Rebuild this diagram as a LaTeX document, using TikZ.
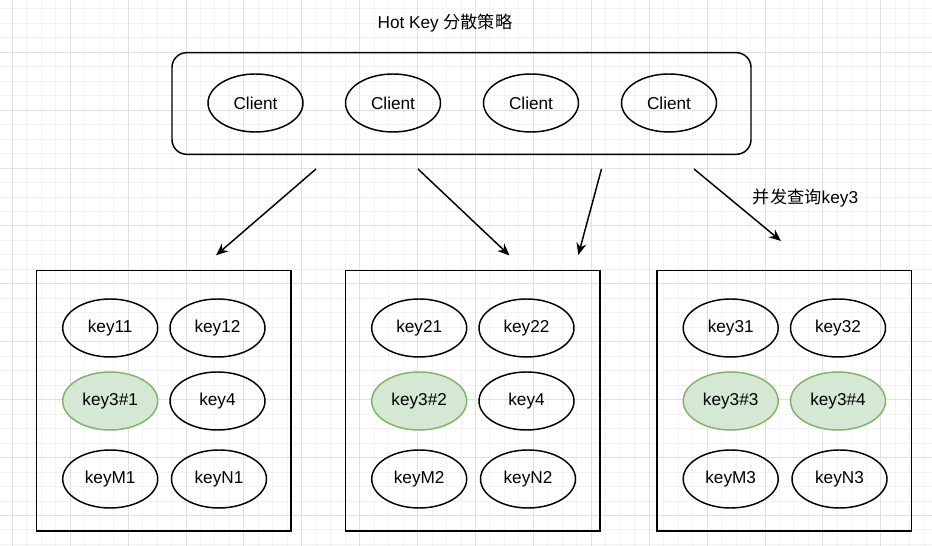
\documentclass[tikz,border=0pt]{standalone}
\usepackage{fontspec}
\setmainfont{Liberation Sans}
\newfontfamily\cjkfont{Noto Sans CJK SC}
\usepackage{tikz}
\usetikzlibrary{arrows.meta,shapes.geometric}
\definecolor{figline}{RGB}{0,0,0}
\definecolor{gridmaj}{RGB}{224,224,224}
\definecolor{gridmin}{RGB}{242,242,242}
\definecolor{hotfill}{HTML}{D5E8D4}
\definecolor{hotline}{HTML}{82B366}
\tikzset{
  gmin/.style ={draw=gridmin, line width=0.75pt, step=14.475},
  gmaj/.style ={draw=gridmaj, line width=0.75pt, step=57.9},
  txt/.style  ={font=\fontsize{12.9}{15}\selectfont, inner sep=1pt},
  keye/.style ={ellipse, draw=figline, line width=1.1pt, minimum width=71.25pt, minimum height=43.5pt, txt},
  hot/.style  ={keye, draw=hotline, fill=hotfill},
  srv/.style  ={draw=figline, line width=1.1pt, minimum width=190.7pt, minimum height=195.2pt},
  pnl/.style  ={draw=figline, line width=1.1pt, rounded corners=11pt, minimum width=434.25pt, minimum height=76.2pt},
  ptr/.style  ={draw=figline, line width=1.1pt, -{Stealth[length=9pt,width=7.5pt]}},
}

\begin{document}
\begin{tikzpicture}[x=0.75pt,y=0.75pt]
  \fill[white] (0,0) rectangle (932,546);
  \useasboundingbox (0,0) rectangle (932,546);
  % background grid
  \begin{scope}[shift={(12.3,30.5)}]
  \draw[gmin] (-12.3,-30.5) grid (919.7,515.5);
  \draw[gmaj] (-12.3,-30.5) grid (919.7,515.5);
  \end{scope}
  \node[txt] (title) at (445,523) {Hot Key {\cjkfont 分散策略}};
  % clients
  \node[pnl] (panel) at (461.5,442.5) {};
  \node[keye] (cl1) at (255.5,443) {Client};
  \node[keye] (cl2) at (393,443) {Client};
  \node[keye] (cl3) at (531,443) {Client};
  \node[keye] (cl4) at (669,443) {Client};
  % server 1
  \begin{scope}
  \node[srv] (srv1) at (163.85,145.15) {};
  \node[keye] (k11) at (110.2,218) {key11};
  \node[keye] (k12) at (217.5,218) {key12};
  \node[hot] (h31) at (110.2,145) {key3\#1};
  \node[keye] (k4a) at (217.5,145) {key4};
  \node[keye] (km1) at (110.2,67) {keyM1};
  \node[keye] (kn1) at (219,67) {keyN1};
  \end{scope}
  % server 2
  \begin{scope}[shift={(309,0)}]
  \node[srv] (srv2) at (163.85,145.15) {};
  \node[keye] (k21) at (110.2,218) {key21};
  \node[keye] (k22) at (217.5,218) {key22};
  \node[hot] (h32) at (110.2,145) {key3\#2};
  \node[keye] (k4b) at (217.5,145) {key4};
  \node[keye] (km2) at (110.2,67) {keyM2};
  \node[keye] (kn2) at (219,67) {keyN2};
  \end{scope}
  % server 3
  \begin{scope}[shift={(620.5,0)}]
  \node[srv] (srv3) at (163.85,145.15) {};
  \node[keye] (k31) at (110.2,218) {key31};
  \node[keye] (k32) at (217.5,218) {key32};
  \node[hot] (h33) at (110.2,145) {key3\#3};
  \node[hot] (h34) at (217.5,145) {key3\#4};
  \node[keye] (km3) at (110.2,67) {keyM3};
  \node[keye] (kn3) at (219,67) {keyN3};
  \end{scope}
  % fan-out arrows
  \coordinate (a1s) at (316,377);
  \coordinate (a1e) at (216,290.7);
  \coordinate (a2s) at (418,377);
  \coordinate (a2e) at (509.5,290.5);
  \coordinate (a3s) at (601.5,377);
  \coordinate (a3e) at (578.3,291);
  \coordinate (a4s) at (694,377);
  \coordinate (a4e) at (781,305);
  \draw[ptr] (a1s) -- (a1e);
  \draw[ptr] (a2s) -- (a2e);
  \draw[ptr] (a3s) -- (a3e);
  \draw[ptr] (a4s) -- (a4e);
  \node[txt] (qlbl) at (805.5,347.7) {{\cjkfont 并发查询}key3};
\end{tikzpicture}
\end{document}
